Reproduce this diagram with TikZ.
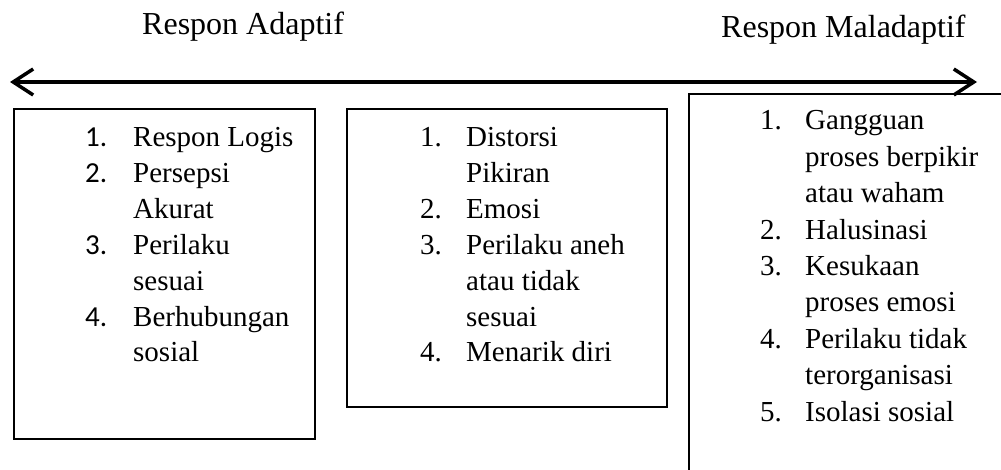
\documentclass[tikz,border=0pt]{standalone}
\usepackage{fontspec}
\setmainfont{Liberation Serif}
\newfontfamily\numfont{Carlito}
\usetikzlibrary{arrows.meta}
\begin{document}
\begin{tikzpicture}[x=1pt,y=-1pt,
  box/.style={draw, line width=1.5pt, inner sep=0pt, outer sep=0pt},
  title/.style={anchor=base west, inner sep=0pt, font=\fontsize{32}{38}\selectfont},
  txt/.style={anchor=base west, inner sep=0pt, font=\fontsize{29}{35}\selectfont},
  cnum/.style={anchor=base west, inner sep=0pt, font=\numfont\fontsize{29}{35}\selectfont},
  biarrow/.style={line width=3.5pt,
    {Straight Barb[length=20pt,width=26pt,line width=3.5pt]}-{Straight Barb[length=20pt,width=26pt,line width=3.5pt]}}]
\useasboundingbox (0,0) rectangle (1001,470);
\clip (0,0) rectangle (1001,470);

% headings
\node[title] (hadapt) at (142,35) {Respon Adaptif};
\node[title] (hmal) at (721,38) {Respon Maladaptif};

% response continuum
\coordinate (lend) at (10,82);
\coordinate (rend) at (977,82);
\draw[biarrow] (lend) -- (rend);

% boxes
\node[box, minimum width=301pt, minimum height=330pt] (leftbox) at (164.5,274) {};
\node[box, minimum width=320pt, minimum height=298pt] (midbox) at (507,258) {};
\node[box, minimum width=400pt, minimum height=420pt] (rightbox) at (889,304) {};

% adaptive responses
\node[cnum] (l1n) at (85,147) {1.};
\node[txt] (l1t) at (133,147) {Respon Logis};
\node[cnum] (l2n) at (85,182.8) {2.};
\node[txt] (l2t) at (133,182.8) {Persepsi};
\node[txt] (l2u) at (133,218.6) {Akurat};
\node[cnum] (l3n) at (85,254.4) {3.};
\node[txt] (l3t) at (133,254.4) {Perilaku};
\node[txt] (l3u) at (133,290.2) {sesuai};
\node[cnum] (l4n) at (85,326) {4.};
\node[txt] (l4t) at (133,326) {Berhubungan};
\node[txt] (l4u) at (133,361.8) {sosial};

% intermediate responses
\node[txt] (m1n) at (420,147) {1.};
\node[txt] (m1t) at (466,147) {Distorsi};
\node[txt] (m1u) at (466,182.8) {Pikiran};
\node[txt] (m2n) at (420,218.6) {2.};
\node[txt] (m2t) at (466,218.6) {Emosi};
\node[txt] (m3n) at (420,254.4) {3.};
\node[txt] (m3t) at (466,254.4) {Perilaku aneh};
\node[txt] (m3u) at (466,290.2) {atau tidak};
\node[txt] (m3v) at (466,326) {sesuai};
\node[txt] (m4n) at (420,361.8) {4.};
\node[txt] (m4t) at (466,361.8) {Menarik diri};

% maladaptive responses
\node[txt] (r1n) at (760,130) {1.};
\node[txt] (r1t) at (805,130) {Gangguan};
\node[txt] (r1u) at (805,166.4) {proses berpikir};
\node[txt] (r1v) at (805,202.8) {atau waham};
\node[txt] (r2n) at (760,239.2) {2.};
\node[txt] (r2t) at (805,239.2) {Halusinasi};
\node[txt] (r3n) at (760,275.6) {3.};
\node[txt] (r3t) at (805,275.6) {Kesukaan};
\node[txt] (r3u) at (805,312) {proses emosi};
\node[txt] (r4n) at (760,348.4) {4.};
\node[txt] (r4t) at (805,348.4) {Perilaku tidak};
\node[txt] (r4u) at (805,384.8) {terorganisasi};
\node[txt] (r5n) at (760,421.2) {5.};
\node[txt] (r5t) at (805,421.2) {Isolasi sosial};
\end{tikzpicture}
\end{document}
